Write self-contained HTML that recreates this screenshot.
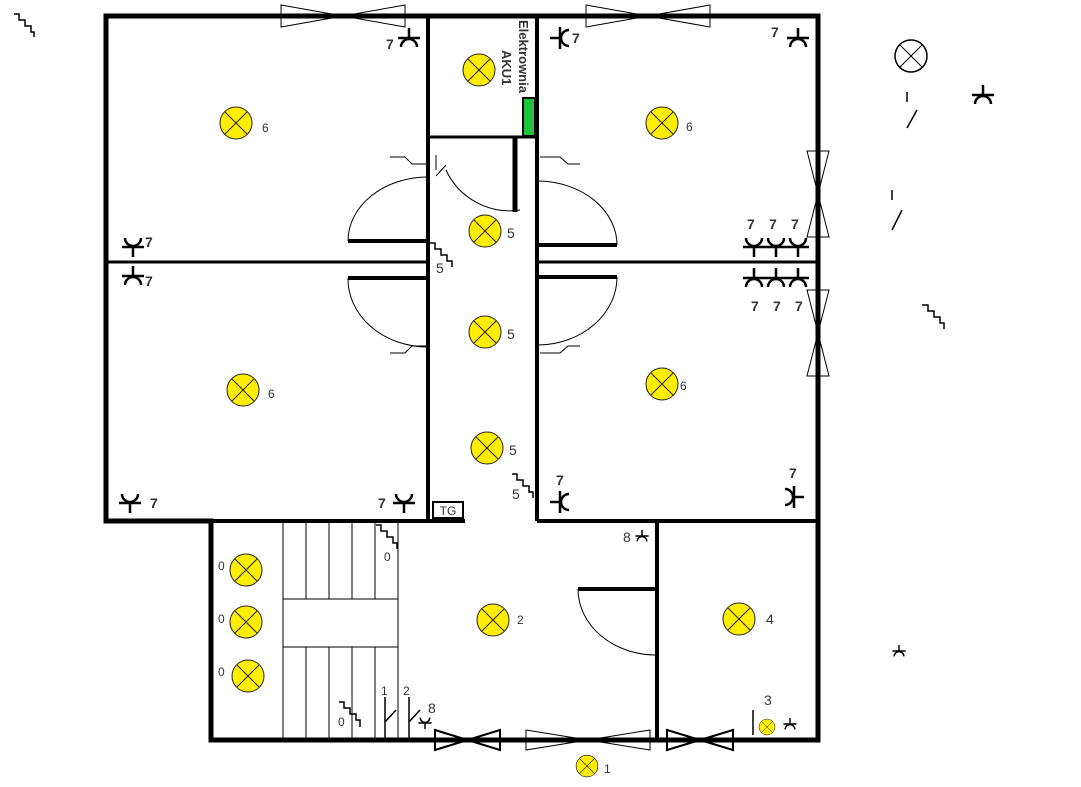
<!DOCTYPE html>
<html><head><style>body{margin:0;background:#fff}svg{display:block}text{font-family:"Liberation Sans",sans-serif;fill:#333}</style></head><body>
<svg width="1081" height="787" viewBox="0 0 1081 787" xmlns="http://www.w3.org/2000/svg">
<defs>
<g id="L"><circle r="16" fill="#ffee00" stroke="#222" stroke-width="1"/><path d="M-11,-11L11,11M11,-11L-11,11" stroke="#222" stroke-width="1"/></g>
<g id="S" fill="none" stroke="#000" stroke-width="2.5"><path d="M-8,-9 A8,8 0 0 0 8,-9" /><path d="M-11,0H11M0,0V10"/></g>
</defs>
<g stroke="#000" fill="none">
<path d="M106,16H818V740H211V521H106Z" stroke-width="5"/>
<path d="M106,521H465M537,521H818" stroke-width="4"/>
<path d="M428,16V521M537,16V521" stroke-width="4"/>
<path d="M106,262H428M537,262H818" stroke-width="3"/>
<path d="M428,137H537" stroke-width="3"/>
<path d="M515,137V212" stroke-width="5"/>
<path d="M657,521V740" stroke-width="4"/>
<path d="M348,241H426M348,278H426M539,245H617M539,277H617M578,589H656" stroke-width="4"/>
<path d="M348,241A80,64 0 0 1 428,177M348,278A80,68 0 0 0 428,347M617,245A80,64 0 0 0 539,181M617,277A80,68 0 0 1 539,345M578,589A78,66 0 0 0 656,655M446,170A70,70 0 0 0 520,210" stroke-width="1"/>
<path d="M283,521V740M306,521V599M329,521V599M352,521V599M375,521V599M398,521V740M306,647V740M329,647V740M352,647V740M375,647V740M283,599H398M283,647H398" stroke-width="1"/>
<path d="M281,5L405,27V5L281,27Z" stroke-width="1"/>
<path d="M586,5L710,27V5L586,27Z" stroke-width="1"/>
<path d="M807,151L829,237H807L829,151Z" stroke-width="1"/>
<path d="M807,290L829,376H807L829,290Z" stroke-width="1"/>
<path d="M435,730L500,750V730L435,750Z" stroke-width="2"/>
<path d="M526,730L650,750V730L526,750Z" stroke-width="1"/>
<path d="M667,730L733,750V730L667,750Z" stroke-width="2"/>
<path d="M390,157H405L412,164H428M436,155V170M436,176L446,165M540,157H560L568,164H580M390,353H405L412,346H428M540,353H560L568,346H580" stroke-width="1"/>
<path d="M385,697V740M385,722L396,710M409,697V740M409,722L420,710M907,92V102M907,128L917,110M892,190V200M892,230L902,210M753,710V735" stroke-width="1.5"/>
<path d="M14,14h5v6h6v6h6v6h3v5M430,243h5v6h6v6h6v6h5v6M922,305h6v6h6v6h6v6h4v6M512,474h5v6h6v6h6v6h4v6M376,525h5v6h6v6h6v6h4v6M339,702h5v6h6v6h6v6h4v7" stroke-width="1.5"/>
<circle cx="911" cy="56" r="16" stroke-width="1.5"/><path d="M900,45L922,67M922,45L900,67" stroke-width="1"/>
</g>
<rect x="523" y="98" width="12" height="38" fill="#1fc43a" stroke="#000" stroke-width="2"/>
<rect x="433" y="502" width="30" height="16" fill="#fff" stroke="#000" stroke-width="2"/><text x="448" y="515" font-size="12" text-anchor="middle">TG</text>
<text transform="translate(519,20) rotate(90)" font-size="13" font-weight="bold" fill="#555">Elektrownia</text>
<text transform="translate(502,50) rotate(90)" font-size="13" font-weight="bold" fill="#555">AKU1</text>
<use href="#L" x="236" y="123"/><use href="#L" x="479" y="70"/><use href="#L" x="662" y="123"/>
<use href="#L" x="485" y="231"/><use href="#L" x="485" y="332"/><use href="#L" x="487" y="448"/>
<use href="#L" x="243" y="390"/><use href="#L" x="662" y="384"/>
<use href="#L" x="246" y="570"/><use href="#L" x="246" y="622"/><use href="#L" x="248" y="676"/>
<use href="#L" x="493" y="620"/><use href="#L" x="739" y="619"/>
<g transform="translate(587,766) scale(0.68)"><use href="#L"/></g>
<g transform="translate(767,727) scale(0.5)"><use href="#L"/></g>
<use href="#S" transform="translate(409,38) rotate(180)"/>
<use href="#S" transform="translate(560,38) rotate(90)"/>
<use href="#S" transform="translate(798,38) rotate(180)"/>
<use href="#S" transform="translate(133,247)"/>
<use href="#S" transform="translate(133,276) rotate(180)"/>
<use href="#S" transform="translate(754,247)"/><use href="#S" transform="translate(776,247)"/><use href="#S" transform="translate(798,247)"/>
<use href="#S" transform="translate(754,278) rotate(180)"/><use href="#S" transform="translate(776,278) rotate(180)"/><use href="#S" transform="translate(798,278) rotate(180)"/>
<use href="#S" transform="translate(130,503)"/>
<use href="#S" transform="translate(404,503)"/>
<use href="#S" transform="translate(560,502) rotate(90)"/>
<use href="#S" transform="translate(794,497) rotate(-90)"/>
<use href="#S" transform="translate(983,95) rotate(180)"/>
<g transform="translate(642,536) scale(0.6) rotate(180)"><use href="#S"/></g>
<g transform="translate(425,723) scale(0.6)"><use href="#S"/></g>
<g transform="translate(790,724) scale(0.6) rotate(180)"><use href="#S"/></g>
<g transform="translate(899,651) scale(0.6) rotate(180)"><use href="#S"/></g>
<g font-size="12">
<text x="262" y="132">6</text><text x="686" y="131">6</text><text x="268" y="398">6</text><text x="680" y="390">6</text>
<text x="218" y="570">0</text><text x="218" y="623">0</text><text x="218" y="676">0</text>
<text x="517" y="624">2</text><text x="604" y="773">1</text>
</g>
<g font-size="14">
<text x="507" y="238">5</text><text x="507" y="339">5</text><text x="509" y="455">5</text><text x="436" y="273">5</text><text x="512" y="499">5</text>
<text x="766" y="624">4</text><text x="764" y="705">3</text><text x="623" y="542">8</text><text x="428" y="713">8</text>
<text x="384" y="561" font-size="12">0</text><text x="338" y="726" font-size="12">0</text><text x="381" y="695" font-size="12">1</text><text x="403" y="695" font-size="12">2</text>
</g>
<g font-size="14" font-weight="bold" fill="#444">
<text x="386" y="49">7</text><text x="572" y="43">7</text><text x="771" y="37">7</text>
<text x="145" y="247">7</text><text x="145" y="286">7</text>
<text x="747" y="229">7</text><text x="769" y="229">7</text><text x="791" y="229">7</text>
<text x="751" y="311">7</text><text x="773" y="311">7</text><text x="795" y="311">7</text>
<text x="150" y="508">7</text><text x="378" y="508">7</text><text x="556" y="485">7</text><text x="789" y="478">7</text>
</g>
</svg>
</body></html>
